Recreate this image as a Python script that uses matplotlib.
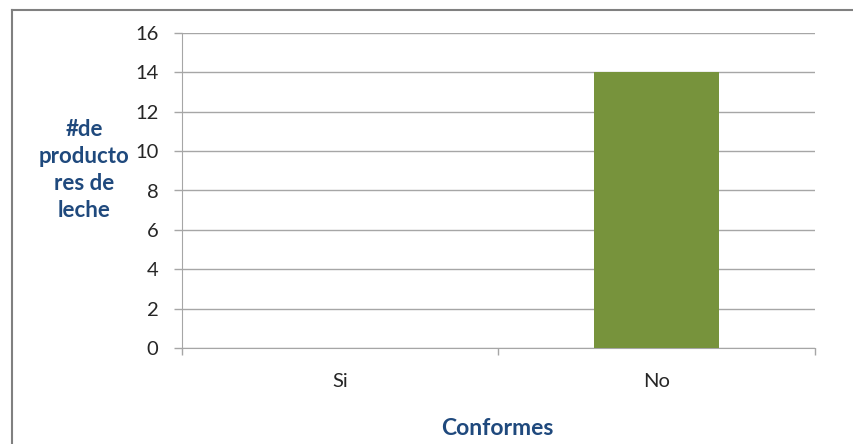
import matplotlib
matplotlib.use("Agg")
import matplotlib.pyplot as plt
from matplotlib.lines import Line2D

categories = ["Si", "No"]
values = [0, 14]
yticks = [0, 2, 4, 6, 8, 10, 12, 14, 16]

plt.rcParams['font.family'] = ['Lato', 'DejaVu Sans']

W, H = 854, 444
fig = plt.figure(figsize=(W/100, H/100), dpi=100)
fig.patch.set_facecolor("white")

# outer frame (top & left only visible)
fig.add_artist(Line2D([12/W, 1], [1-10/H, 1-10/H], transform=fig.transFigure, color="#808080", lw=1.5))
fig.add_artist(Line2D([12/W, 12/W], [0, 1-10/H], transform=fig.transFigure, color="#808080", lw=1.5))

left, right, top, bottom = 182, 815, 33, 348
ax = fig.add_axes([left/W, 1-bottom/H, (right-left)/W, (bottom-top)/H])

x = list(range(len(categories)))
ax.bar(x, values, width=0.395, color="#77933C", zorder=3)
ax.set_xlim(-0.5, len(categories)-0.5)
ax.set_ylim(0, 16)
ax.set_yticks(yticks)
ax.set_yticklabels([str(v) for v in yticks], fontsize=14.5, color="#262626")
ax.yaxis.grid(True, color="#A6A6A6", lw=1, zorder=0)
ax.set_axisbelow(True)

ax.set_xticks([xi for xi in x])
ax.set_xticklabels(categories, fontsize=14.5, color="#262626")
ax.tick_params(axis='x', length=0, pad=18)
# category boundary ticks
ax.set_xticks([-0.5, 0.5, 1.5], minor=True)
ax.tick_params(axis='x', which='minor', length=5, color="#A6A6A6", width=1)
ax.tick_params(axis='y', length=6, color="#A6A6A6", width=1, pad=11)

for s in ["top", "right"]:
    ax.spines[s].set_visible(False)
ax.spines["left"].set_color("#A6A6A6")
ax.spines["bottom"].set_color("#A6A6A6")

fig.text(84/W, 1-170/H, "#de\nproducto\nres de\nleche", ha="center", va="center",
         fontsize=16, fontweight="bold", color="#1F497D", linespacing=1.36)
fig.text(497/W, 1-428/H, "Conformes", ha="center", va="center",
         fontsize=16.5, fontweight="bold", color="#1F497D")

fig.savefig("out.png", dpi=100, facecolor="white")
